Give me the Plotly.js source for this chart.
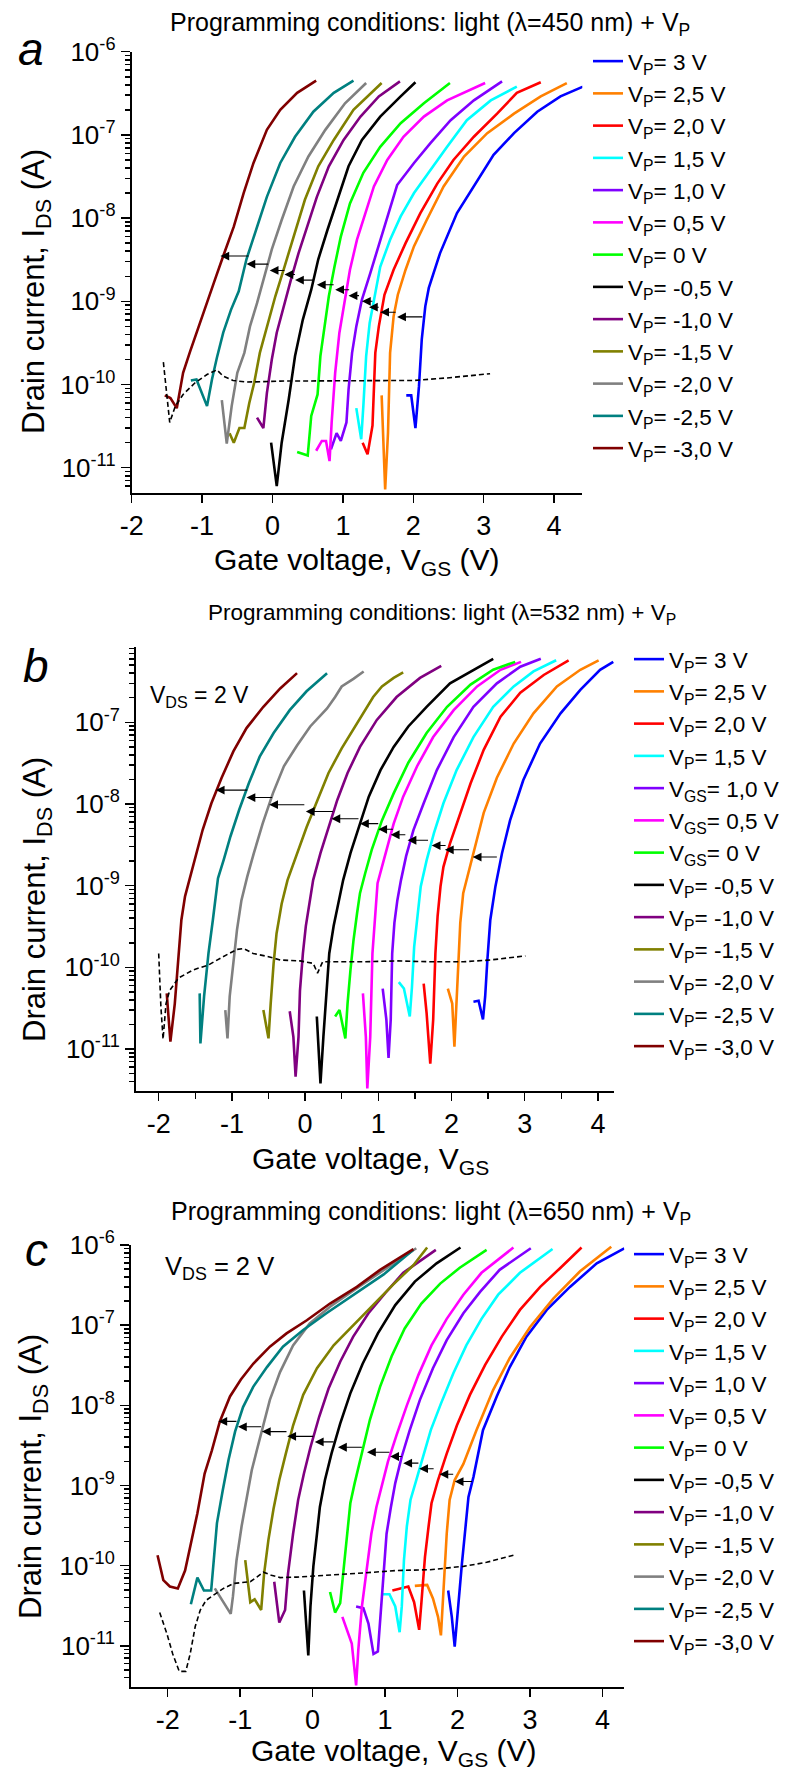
<!DOCTYPE html>
<html>
<head>
<meta charset="utf-8">
<script src="https://cdn.plot.ly/plotly-3.0.1.min.js"></script>
<style>html,body{margin:0;padding:0;background:#fff;}#chart{width:797px;height:1775px;}</style>
</head>
<body>
<div id="chart"></div>
<script>
// ---------------- labels & colours ----------------
const legendLabelsA = ['V<sub>P</sub>= 3 V','V<sub>P</sub>= 2,5 V','V<sub>P</sub>= 2,0 V','V<sub>P</sub>= 1,5 V','V<sub>P</sub>= 1,0 V','V<sub>P</sub>= 0,5 V','V<sub>P</sub>= 0 V','V<sub>P</sub>= -0,5 V','V<sub>P</sub>= -1,0 V','V<sub>P</sub>= -1,5 V','V<sub>P</sub>= -2,0 V','V<sub>P</sub>= -2,5 V','V<sub>P</sub>= -3,0 V'];
const legendLabelsB = ['V<sub>P</sub>= 3 V','V<sub>P</sub>= 2,5 V','V<sub>P</sub>= 2,0 V','V<sub>P</sub>= 1,5 V','V<sub>GS</sub>= 1,0 V','V<sub>GS</sub>= 0,5 V','V<sub>GS</sub>= 0 V','V<sub>P</sub>= -0,5 V','V<sub>P</sub>= -1,0 V','V<sub>P</sub>= -1,5 V','V<sub>P</sub>= -2,0 V','V<sub>P</sub>= -2,5 V','V<sub>P</sub>= -3,0 V'];
const legendLabelsC = legendLabelsA;
const curveColors = ['#0000ff','#ff8000','#ff0000','#00ffff','#8000ff','#ff00ff','#00ff00','#000000','#800080','#808000','#808080','#008080','#800000'];
const xTickVals = [-2,-1,0,1,2,3,4];
const xTickText = ['-2','-1','0','1','2','3','4'];
const xHalfTickVals = [-1.5,-0.5,0.5,1.5,2.5,3.5];
const titleA = 'Programming conditions: light (λ=450 nm) + V<sub>P</sub>';
const titleB = 'Programming conditions: light (λ=532 nm) + V<sub>P</sub>';
const titleC = 'Programming conditions: light (λ=650 nm) + V<sub>P</sub>';
const xTitleAC = 'Gate voltage, V<sub>GS</sub> (V)';
const xTitleB = 'Gate voltage, V<sub>GS</sub>';
const yTitle = 'Drain current, I<sub>DS</sub> (A)';
const vdsText = 'V<sub>DS</sub> = 2 V';

// ---------------- panel a (450 nm) ----------------
const a_V_p3 = [1.90,1.97,2.03,2.08,2.12,2.17,2.22,2.38,2.62,2.86,3.14,3.43,3.76,4.09,4.41];
const a_I_p3 = [7.4e-11,7.4e-11,3.0e-11,9.5e-11,3.5e-10,8.7e-10,1.45e-9,3.8e-9,1.15e-8,2.4e-8,5.75e-8,1.05e-7,1.9e-7,2.9e-7,3.8e-7];
const a_V_p25 = [1.55,1.60,1.64,1.67,1.72,1.78,1.89,2.01,2.19,2.43,2.72,3.05,3.43,3.81,4.18];
const a_I_p25 = [7.4e-11,5.5e-12,2.6e-11,2.4e-10,6.6e-10,1.2e-9,2.4e-9,4.6e-9,9.5e-9,2.4e-8,5.5e-8,1.05e-7,1.8e-7,2.9e-7,4.2e-7];
const a_V_p20 = [1.28,1.35,1.42,1.46,1.51,1.59,1.72,1.89,2.10,2.34,2.57,2.86,3.19,3.47,3.81];
const a_I_p20 = [2.0e-11,1.45e-11,3.2e-11,2.4e-10,5.0e-10,1.2e-9,2.4e-9,5.0e-9,1.15e-8,2.6e-8,5.0e-8,9.5e-8,1.8e-7,3.2e-7,4.3e-7];
const a_V_p15 = [1.19,1.26,1.29,1.33,1.38,1.44,1.53,1.67,1.82,2.01,2.24,2.48,2.76,3.10,3.47];
const a_I_p15 = [5.2e-11,2.2e-11,5.5e-11,2.2e-10,5.5e-10,1.05e-9,2.6e-9,5.5e-9,1.05e-8,2.0e-8,3.8e-8,7.2e-8,1.5e-7,2.6e-7,3.8e-7];
const a_V_p10 = [0.83,0.91,0.97,1.05,1.08,1.13,1.19,1.27,1.39,1.53,1.67,1.77,2.01,2.24,2.53,2.86,3.26];
const a_I_p10 = [1.66e-11,2.6e-11,2.1e-11,3.5e-11,8.7e-11,2.4e-10,5.0e-10,1.05e-9,2.2e-9,5.5e-9,1.38e-8,2.5e-8,4.6e-8,7.9e-8,1.5e-7,2.6e-7,4.4e-7];
const a_V_p05 = [0.62,0.70,0.76,0.81,0.84,0.89,0.95,1.02,1.10,1.20,1.32,1.44,1.63,1.86,2.15,2.48,3.02];
const a_I_p05 = [1.6e-11,2.1e-11,2.1e-11,1.2e-11,3.5e-11,1.38e-10,4.2e-10,9.5e-10,2.4e-9,5.5e-9,1.15e-8,2.4e-8,5.0e-8,9.5e-8,1.66e-7,2.6e-7,4.2e-7];
const a_V_0 = [0.35,0.50,0.55,0.64,0.68,0.74,0.80,0.88,0.97,1.10,1.29,1.53,1.82,2.15,2.52];
const a_I_0 = [1.55e-11,1.4e-11,4.2e-11,7.6e-11,2.2e-10,5.0e-10,1.15e-9,2.6e-9,6.0e-9,1.5e-8,3.5e-8,7.2e-8,1.38e-7,2.4e-7,4.2e-7];
const a_V_m05 = [-0.02,0.06,0.13,0.23,0.32,0.43,0.55,0.65,0.78,0.92,1.08,1.27,1.53,1.82,2.03];
const a_I_m05 = [2.0e-11,6.0e-12,2.0e-11,6.6e-11,2.2e-10,6.0e-10,1.38e-9,3.2e-9,7.2e-9,1.66e-8,4.2e-8,8.7e-8,1.66e-7,2.9e-7,4.3e-7];
const a_V_m10 = [-0.22,-0.13,-0.08,-0.01,0.06,0.17,0.26,0.37,0.49,0.63,0.80,1.01,1.25,1.51,1.81];
const a_I_m10 = [4.0e-11,3.0e-11,7.9e-11,2.0e-10,4.2e-10,9.5e-10,1.8e-9,3.8e-9,7.9e-9,1.8e-8,4.2e-8,8.7e-8,1.66e-7,2.9e-7,4.4e-7];
const a_V_m15 = [-0.61,-0.55,-0.47,-0.40,-0.33,-0.26,-0.18,-0.08,0.04,0.17,0.30,0.46,0.65,0.87,1.15,1.55];
const a_I_m15 = [2.6e-11,2.0e-11,3.0e-11,3.0e-11,6.0e-11,1.05e-10,2.4e-10,5.0e-10,1.15e-9,2.6e-9,6.0e-9,1.66e-8,4.2e-8,8.7e-8,2.0e-7,4.2e-7];
const a_V_m20 = [-0.72,-0.65,-0.58,-0.50,-0.40,-0.32,-0.22,-0.13,-0.01,0.13,0.30,0.51,0.75,1.03,1.33];
const a_I_m20 = [6.5e-11,1.95e-11,5.5e-11,1.38e-10,2.4e-10,5.0e-10,9.5e-10,1.8e-9,4.2e-9,9.5e-9,2.4e-8,5.5e-8,1.15e-7,2.4e-7,4.2e-7];
const a_V_m25 = [-1.16,-1.08,-0.93,-0.86,-0.79,-0.70,-0.59,-0.48,-0.37,-0.22,-0.08,0.11,0.32,0.58,0.87,1.15];
const a_I_m25 = [1.12e-10,1.15e-10,5.5e-11,1.15e-10,2.1e-10,4.2e-10,7.9e-10,1.32e-9,3.2e-9,7.9e-9,1.8e-8,4.6e-8,9.5e-8,1.9e-7,3.2e-7,4.5e-7];
const a_V_m30 = [-1.53,-1.45,-1.36,-1.27,-1.17,-1.05,-0.93,-0.82,-0.70,-0.55,-0.41,-0.27,-0.08,0.11,0.35,0.62];
const a_I_m30 = [7.4e-11,6.9e-11,5.2e-11,1.38e-10,2.5e-10,5.0e-10,9.5e-10,1.8e-9,3.5e-9,7.9e-9,2.0e-8,4.6e-8,1.15e-7,2.0e-7,3.2e-7,4.5e-7];
const a_V_ref = [-1.55,-1.49,-1.46,-1.38,-1.27,-1.10,-0.93,-0.79,-0.70,-0.56,-0.37,0.11,1.06,2.01,2.48,3.09];
const a_I_ref = [1.86e-10,6.6e-11,3.5e-11,5.5e-11,7.6e-11,1.05e-10,1.32e-10,1.5e-10,1.26e-10,1.12e-10,1.07e-10,1.1e-10,1.1e-10,1.12e-10,1.2e-10,1.35e-10];
const a_arrowHeadV = [-0.74,-0.37,-0.04,0.17,0.32,0.63,0.89,1.08,1.27,1.37,1.53,1.77];
const a_arrowTailV = [-0.32,-0.04,0.19,0.34,0.61,0.89,1.11,1.25,1.44,1.53,1.77,2.15];
const a_arrowI = [3.5e-9,2.8e-9,2.35e-9,2.1e-9,1.8e-9,1.58e-9,1.38e-9,1.17e-9,1.0e-9,8.5e-10,7.4e-10,6.5e-10];

// ---------------- panel b (532 nm) ----------------
const b_V_p3 = [2.30,2.37,2.43,2.46,2.49,2.53,2.60,2.69,2.80,2.98,3.21,3.49,3.76,4.03,4.21];
const b_I_p3 = [3.8e-11,3.9e-11,2.3e-11,4.4e-11,1.23e-10,3.8e-10,9.8e-10,2.5e-9,6.3e-9,1.95e-8,5.5e-8,1.29e-7,2.5e-7,4.4e-7,5.5e-7];
const b_V_p25 = [1.95,2.01,2.04,2.07,2.10,2.12,2.16,2.23,2.32,2.44,2.62,2.85,3.12,3.44,3.76,4.01];
const b_I_p25 = [5.5e-11,3.6e-11,1.07e-11,4.4e-11,1.48e-10,3.5e-10,8.1e-10,1.41e-9,3.0e-9,7.8e-9,2.1e-8,5.5e-8,1.29e-7,2.75e-7,4.4e-7,5.75e-7];
const b_V_p20 = [1.62,1.66,1.71,1.75,1.78,1.81,1.85,1.89,1.98,2.10,2.26,2.44,2.67,2.94,3.26,3.60];
const b_I_p20 = [6.3e-11,2.75e-11,6.6e-12,2.3e-11,1.48e-10,4.2e-10,9.8e-10,1.7e-9,3.3e-9,6.9e-9,1.78e-8,4.6e-8,1.17e-7,2.3e-7,3.8e-7,5.75e-7];
const b_V_p15 = [1.28,1.35,1.43,1.46,1.49,1.54,1.58,1.66,1.76,1.89,2.07,2.30,2.57,2.85,3.12,3.43];
const b_I_p15 = [6.6e-11,5.5e-11,2.5e-11,5.75e-11,1.78e-10,5.0e-10,9.8e-10,2.04e-9,4.4e-9,1.02e-8,2.6e-8,6.6e-8,1.55e-7,2.75e-7,4.2e-7,5.75e-7];
const b_V_p10 = [1.06,1.11,1.14,1.17,1.19,1.22,1.26,1.31,1.38,1.48,1.62,1.80,2.03,2.30,2.62,2.94,3.22];
const b_I_p10 = [5.5e-11,2.3e-11,7.8e-12,2.3e-11,1.48e-10,3.5e-10,6.6e-10,1.17e-9,2.3e-9,4.8e-9,1.02e-8,2.6e-8,6.6e-8,1.55e-7,3.0e-7,4.8e-7,6.0e-7];
const b_V_p05 = [0.79,0.83,0.85,0.89,0.92,0.96,0.99,1.05,1.12,1.21,1.34,1.53,1.75,2.03,2.35,2.67,2.95];
const b_I_p05 = [4.8e-11,1.41e-11,3.3e-12,1.41e-11,1.48e-10,5.5e-10,1.07e-9,1.7e-9,3.0e-9,5.75e-9,1.23e-8,2.9e-8,6.6e-8,1.41e-7,2.75e-7,4.4e-7,5.5e-7];
const b_V_0 = [0.41,0.47,0.55,0.58,0.62,0.66,0.71,0.75,0.82,0.91,1.05,1.21,1.41,1.66,1.94,2.26,2.57,2.87];
const b_I_0 = [2.5e-11,3.0e-11,1.35e-11,3.6e-11,9.3e-11,2.1e-10,4.6e-10,8.1e-10,1.41e-9,2.75e-9,6.3e-9,1.35e-8,3.2e-8,7.4e-8,1.55e-7,2.9e-7,4.4e-7,5.5e-7];
const b_V_m05 = [0.16,0.21,0.25,0.29,0.33,0.39,0.44,0.52,0.62,0.73,0.87,1.03,1.21,1.41,1.66,1.98,2.30,2.57];
const b_I_m05 = [2.5e-11,3.8e-12,1.41e-11,4.8e-11,1.48e-10,3.2e-10,5.5e-10,1.17e-9,2.5e-9,5.2e-9,1.23e-8,2.6e-8,5.0e-8,8.9e-8,1.55e-7,3.0e-7,4.4e-7,6.0e-7];
const b_V_m10 = [-0.21,-0.16,-0.13,-0.09,-0.07,-0.03,0.01,0.05,0.11,0.21,0.32,0.44,0.58,0.75,0.98,1.25,1.57,1.86];
const b_I_m10 = [2.9e-11,1.41e-11,4.6e-12,1.41e-11,5.2e-11,1.48e-10,3.2e-10,5.5e-10,1.17e-9,2.5e-9,5.2e-9,1.12e-8,2.4e-8,5.0e-8,1.07e-7,2.04e-7,3.5e-7,4.9e-7];
const b_V_m15 = [-0.57,-0.50,-0.47,-0.43,-0.39,-0.32,-0.24,-0.11,0.02,0.17,0.32,0.50,0.68,0.83,0.93,1.05,1.21,1.34];
const b_I_m15 = [3.0e-11,1.35e-11,3.6e-11,1.12e-10,2.6e-10,6.0e-10,1.17e-9,2.5e-9,5.2e-9,1.12e-8,2.4e-8,4.8e-8,8.9e-8,1.48e-7,2.04e-7,2.75e-7,3.5e-7,4.1e-7];
const b_V_m20 = [-1.09,-1.06,-1.03,-0.98,-0.93,-0.87,-0.79,-0.70,-0.58,-0.44,-0.29,-0.11,0.07,0.30,0.41,0.50,0.66,0.80];
const b_I_m20 = [3.0e-11,1.35e-11,4.4e-11,1.23e-10,2.9e-10,6.6e-10,1.29e-9,2.5e-9,5.75e-9,1.35e-8,2.9e-8,5.2e-8,8.9e-8,1.48e-7,2.04e-7,2.75e-7,3.4e-7,4.2e-7];
const b_V_m25 = [-1.44,-1.43,-1.38,-1.32,-1.26,-1.19,-1.11,-1.02,-0.90,-0.77,-0.62,-0.43,-0.21,0.02,0.30];
const b_I_m25 = [4.8e-11,1.17e-11,4.4e-11,1.48e-10,3.8e-10,1.23e-9,2.1e-9,4.0e-9,8.5e-9,1.78e-8,3.8e-8,7.4e-8,1.41e-7,2.4e-7,4.0e-7];
const b_V_m30 = [-1.89,-1.84,-1.78,-1.73,-1.69,-1.64,-1.58,-1.50,-1.40,-1.28,-1.14,-0.98,-0.80,-0.57,-0.34,-0.11];
const b_I_m30 = [4.8e-11,1.23e-11,3.6e-11,1.48e-10,3.8e-10,7.4e-10,1.17e-9,2.3e-9,4.8e-9,1.02e-8,2.1e-8,4.4e-8,8.5e-8,1.55e-7,2.6e-7,4.0e-7];
const b_V_ref = [-2.00,-1.97,-1.94,-1.90,-1.85,-1.73,-1.53,-1.32,-1.12,-0.93,-0.84,-0.71,-0.50,-0.34,-0.07,0.11,0.17,0.24,0.39,0.80,1.25,1.71,2.16,2.53,3.01];
const b_I_ref = [1.48e-10,3.3e-11,1.32e-11,3.6e-11,5.2e-11,7.4e-11,9.3e-11,1.07e-10,1.35e-10,1.66e-10,1.7e-10,1.48e-10,1.35e-10,1.23e-10,1.2e-10,1.12e-10,8.5e-11,1.17e-10,1.17e-10,1.17e-10,1.2e-10,1.17e-10,1.17e-10,1.23e-10,1.38e-10];
const b_arrowHeadV = [-1.22,-0.80,-0.49,0.01,0.36,0.75,1.00,1.17,1.40,1.73,1.91,2.29];
const b_arrowTailV = [-0.77,-0.43,0.01,0.40,0.75,1.02,1.22,1.39,1.70,1.94,2.26,2.64];
const b_arrowI = [1.48e-8,1.2e-8,9.8e-9,8.1e-9,6.6e-9,5.75e-9,4.9e-9,4.2e-9,3.6e-9,3.1e-9,2.75e-9,2.24e-9];

// ---------------- panel c (650 nm) ----------------
const c_V_p3 = [1.87,1.92,1.96,2.06,2.15,2.22,2.35,2.54,2.72,2.95,3.23,3.55,3.92,4.30];
const c_I_p3 = [4.9e-11,2.3e-11,9.8e-12,1.07e-10,7.2e-10,1.29e-9,4.9e-9,1.29e-8,3.0e-8,7.2e-8,1.55e-7,3.0e-7,5.9e-7,9.1e-7];
const c_V_p25 = [1.41,1.58,1.66,1.73,1.77,1.80,1.85,1.89,1.96,2.08,2.26,2.49,2.72,3.00,3.32,3.69,4.12];
const c_I_p25 = [5.6e-11,5.75e-11,3.9e-11,2.3e-11,1.35e-11,4.5e-11,2.5e-10,6.6e-10,1.17e-9,1.86e-9,4.9e-9,1.55e-8,3.9e-8,9.5e-8,2.14e-7,4.7e-7,9.5e-7];
const c_V_p20 = [1.10,1.21,1.32,1.40,1.47,1.50,1.55,1.60,1.64,1.73,1.85,1.99,2.17,2.38,2.61,2.86,3.14,3.41,3.71];
const c_I_p20 = [4.9e-11,5.2e-11,5.5e-11,3.5e-11,1.58e-11,3.4e-11,1.29e-10,3.1e-10,6.0e-10,1.17e-9,2.5e-9,5.6e-9,1.35e-8,3.2e-8,7.2e-8,1.55e-7,3.0e-7,5.1e-7,9.3e-7];
const c_V_p15 = [0.97,1.06,1.14,1.20,1.23,1.26,1.30,1.35,1.43,1.52,1.63,1.77,1.94,2.12,2.33,2.56,2.86,3.31];
const c_I_p15 = [4.4e-11,4.4e-11,3.1e-11,1.48e-11,3.1e-11,1.17e-10,3.1e-10,6.6e-10,1.17e-9,2.3e-9,4.9e-9,1.05e-8,2.5e-8,5.6e-8,1.2e-7,2.4e-7,4.5e-7,8.9e-7];
const c_V_p10 = [0.60,0.70,0.77,0.84,0.90,0.93,0.98,1.02,1.08,1.14,1.23,1.34,1.48,1.66,1.85,2.08,2.31,2.58,3.01];
const c_I_p10 = [3.1e-11,2.95e-11,1.9e-11,7.9e-12,8.5e-12,1.9e-11,7.9e-11,2.5e-10,5.4e-10,1.07e-9,2.3e-9,4.9e-9,1.17e-8,2.9e-8,6.5e-8,1.41e-7,2.6e-7,4.9e-7,9.1e-7];
const c_V_p05 = [0.41,0.47,0.54,0.60,0.63,0.68,0.75,0.81,0.88,0.95,1.04,1.16,1.30,1.46,1.64,1.85,2.08,2.33,2.77];
const c_I_p05 = [2.3e-11,1.66e-11,1.07e-11,3.2e-12,8.9e-12,3.1e-11,9.8e-11,2.5e-10,5.4e-10,9.5e-10,2.0e-9,4.3e-9,1.0e-8,2.4e-8,5.6e-8,1.2e-7,2.4e-7,4.5e-7,9.3e-7];
const c_V_0 = [0.24,0.31,0.38,0.42,0.47,0.52,0.58,0.68,0.79,0.93,1.09,1.27,1.50,1.76,2.03,2.40];
const c_I_0 = [4.7e-11,2.6e-11,3.4e-11,7.9e-11,2.1e-10,6.0e-10,1.07e-9,2.5e-9,6.6e-9,1.7e-8,4.1e-8,9.1e-8,1.86e-7,3.3e-7,5.2e-7,8.7e-7];
const c_V_m05 = [-0.12,-0.06,-0.03,0.01,0.06,0.10,0.17,0.26,0.38,0.52,0.69,0.90,1.14,1.41,1.71,2.04];
const c_I_m05 = [4.9e-11,7.6e-12,3.1e-11,9.8e-11,2.5e-10,5.4e-10,1.17e-9,2.5e-9,5.9e-9,1.41e-8,3.3e-8,7.9e-8,1.78e-7,3.5e-7,5.9e-7,9.3e-7];
const c_V_m10 = [-0.53,-0.46,-0.38,-0.34,-0.27,-0.20,-0.12,-0.03,0.09,0.22,0.38,0.56,0.77,1.00,1.25,1.70];
const c_I_m10 = [6.3e-11,1.95e-11,2.8e-11,7.9e-11,2.5e-10,6.6e-10,1.41e-9,3.0e-9,7.2e-9,1.62e-8,3.5e-8,7.2e-8,1.41e-7,2.5e-7,4.5e-7,8.7e-7];
const c_V_m15 = [-0.93,-0.86,-0.80,-0.71,-0.67,-0.61,-0.54,-0.46,-0.37,-0.27,-0.13,0.06,0.29,0.56,0.84,1.11,1.39,1.58];
const c_I_m15 = [1.17e-10,3.5e-11,3.8e-11,2.8e-11,7.9e-11,2.1e-10,5.1e-10,1.17e-9,2.5e-9,5.6e-9,1.35e-8,2.9e-8,5.6e-8,1.0e-7,1.78e-7,3.2e-7,5.6e-7,9.3e-7];
const c_V_m20 = [-1.35,-1.13,-1.10,-1.05,-0.98,-0.91,-0.84,-0.77,-0.69,-0.59,-0.45,-0.27,-0.04,0.24,0.61,1.02,1.43];
const c_I_m20 = [5.2e-11,2.5e-11,4.1e-11,1.17e-10,3.1e-10,7.2e-10,1.55e-9,2.75e-9,5.4e-9,1.17e-8,2.6e-8,5.6e-8,1.05e-7,1.7e-7,2.9e-7,5.1e-7,9.1e-7];
const c_V_m25 = [-1.68,-1.59,-1.50,-1.40,-1.36,-1.32,-1.24,-1.16,-1.07,-0.96,-0.82,-0.63,-0.41,-0.13,0.19,0.56,0.98,1.39];
const c_I_m25 = [3.3e-11,7.1e-11,4.9e-11,4.9e-11,1.29e-10,3.4e-10,8.7e-10,2.1e-9,4.7e-9,9.5e-9,1.7e-8,3.0e-8,5.4e-8,8.7e-8,1.41e-7,2.4e-7,4.3e-7,8.7e-7];
const c_V_m30 = [-2.14,-2.06,-1.97,-1.86,-1.76,-1.67,-1.59,-1.49,-1.39,-1.28,-1.14,-0.99,-0.82,-0.59,-0.36,-0.08,0.24,0.61,0.93,1.39];
const c_I_m30 = [1.35e-10,6.6e-11,5.5e-11,5.2e-11,8.7e-11,2.1e-10,4.5e-10,1.41e-9,2.75e-9,6.3e-9,1.29e-8,2.1e-8,3.3e-8,5.4e-8,7.9e-8,1.15e-7,1.86e-7,3.0e-7,4.9e-7,8.9e-7];
const c_V_ref = [-2.11,-2.01,-1.93,-1.84,-1.75,-1.69,-1.62,-1.55,-1.47,-1.37,-1.23,-1.09,-0.86,-0.77,-0.68,-0.57,-0.45,-0.22,0.24,0.70,1.16,1.62,2.08,2.40,2.77];
const c_I_ref = [2.6e-11,1.41e-11,7.9e-12,4.8e-12,4.8e-12,7.9e-12,1.74e-11,2.8e-11,3.7e-11,4.3e-11,5.2e-11,6.0e-11,6.3e-11,7.2e-11,8.3e-11,7.6e-11,7.1e-11,7.2e-11,7.6e-11,8.1e-11,8.7e-11,8.9e-11,9.8e-11,1.1e-10,1.35e-10];
const c_arrowHeadV = [-1.30,-1.03,-0.70,-0.35,0.03,0.35,0.75,1.07,1.25,1.47,1.75,1.96];
const c_arrowTailV = [-1.03,-0.69,-0.34,0.03,0.31,0.70,1.08,1.25,1.48,1.69,1.96,2.22];
const c_arrowI = [6.3e-9,5.4e-9,4.7e-9,4.1e-9,3.5e-9,3.0e-9,2.6e-9,2.3e-9,1.9e-9,1.62e-9,1.38e-9,1.12e-9];

// ---------------- assembly ----------------
const FONT = 'Liberation Sans, Arial, Helvetica, sans-serif';
const W = 797, H = 1775;
const px = v => v / W;          // layout helper: pixel -> paper x
const py = v => 1 - v / H;      // layout helper: pixel -> paper y

const panels = [
  {sx:'', legend:'legend', labels:legendLabelsA,
   V:[a_V_p3,a_V_p25,a_V_p20,a_V_p15,a_V_p10,a_V_p05,a_V_0,a_V_m05,a_V_m10,a_V_m15,a_V_m20,a_V_m25,a_V_m30],
   I:[a_I_p3,a_I_p25,a_I_p20,a_I_p15,a_I_p10,a_I_p05,a_I_0,a_I_m05,a_I_m10,a_I_m15,a_I_m20,a_I_m25,a_I_m30],
   refV:a_V_ref, refI:a_I_ref, head:a_arrowHeadV, tail:a_arrowTailV, arrI:a_arrowI},
  {sx:'2', legend:'legend2', labels:legendLabelsB,
   V:[b_V_p3,b_V_p25,b_V_p20,b_V_p15,b_V_p10,b_V_p05,b_V_0,b_V_m05,b_V_m10,b_V_m15,b_V_m20,b_V_m25,b_V_m30],
   I:[b_I_p3,b_I_p25,b_I_p20,b_I_p15,b_I_p10,b_I_p05,b_I_0,b_I_m05,b_I_m10,b_I_m15,b_I_m20,b_I_m25,b_I_m30],
   refV:b_V_ref, refI:b_I_ref, head:b_arrowHeadV, tail:b_arrowTailV, arrI:b_arrowI},
  {sx:'3', legend:'legend3', labels:legendLabelsC,
   V:[c_V_p3,c_V_p25,c_V_p20,c_V_p15,c_V_p10,c_V_p05,c_V_0,c_V_m05,c_V_m10,c_V_m15,c_V_m20,c_V_m25,c_V_m30],
   I:[c_I_p3,c_I_p25,c_I_p20,c_I_p15,c_I_p10,c_I_p05,c_I_0,c_I_m05,c_I_m10,c_I_m15,c_I_m20,c_I_m25,c_I_m30],
   refV:c_V_ref, refI:c_I_ref, head:c_arrowHeadV, tail:c_arrowTailV, arrI:c_arrowI}
];

const traces = [];
const annotations = [];
panels.forEach(p => {
  p.V.forEach((v, i) => {
    traces.push({x:v, y:p.I[i], type:'scatter', mode:'lines', name:p.labels[i],
      line:{color:curveColors[i], width:2.6}, xaxis:'x'+p.sx, yaxis:'y'+p.sx, legend:p.legend});
  });
  traces.push({x:p.refV, y:p.refI, type:'scatter', mode:'lines', showlegend:false,
    line:{color:'#000', width:1.6, dash:'5px,3px'}, xaxis:'x'+p.sx, yaxis:'y'+p.sx});
  p.head.forEach((h, i) => {
    annotations.push({xref:'x'+p.sx, yref:'y'+p.sx, axref:'x'+p.sx, ayref:'y'+p.sx,
      x:h, y:Math.log10(p.arrI[i]), ax:p.tail[i], ay:Math.log10(p.arrI[i]),
      text:'', showarrow:true, arrowhead:2, arrowsize:1.6, arrowwidth:1.1, arrowcolor:'#000', standoff:0, startstandoff:0});
  });
});

function decades(lo, hi){ const a=[]; for(let k=lo;k<=hi;k++) a.push(Math.pow(10,k)); return a; }
function decadeLabels(lo, hi){ const a=[]; for(let k=lo;k<=hi;k++) a.push('10<sup>'+k+'</sup>'); return a; }
function minors(lo, hi){ const a=[]; for(let k=lo;k<=hi;k++) for(let m=2;m<=9;m++) a.push(m*Math.pow(10,k)); return a; }

const axisCommon = {showline:true, linecolor:'#000', linewidth:2, showgrid:false, zeroline:false,
  ticks:'outside', tickcolor:'#000', tickwidth:1.5, mirror:false};

function xAxis(domain, range, anchor, halfTicks){
  const ax = Object.assign({}, axisCommon, {domain, range, anchor, tickmode:'array', tickvals:xTickVals, ticktext:xTickText,
    ticklen:8, tickfont:{family:FONT, size:27, color:'#000'}});
  if (halfTicks) ax.minor = {tickmode:'array', tickvals:xHalfTickVals, ticklen:6, tickwidth:1.5, ticks:'outside', tickcolor:'#000', showgrid:false};
  return ax;
}
function yAxis(domain, range, anchor){
  return Object.assign({}, axisCommon, {domain, range, anchor, type:'log', tickmode:'array',
    tickvals:decades(-12,-6), ticktext:decadeLabels(-12,-6), ticklen:9,
    tickfont:{family:FONT, size:26, color:'#000'},
    minor:{tickmode:'array', tickvals:minors(-12,-7), ticklen:5, tickwidth:1.5, ticks:'outside', tickcolor:'#000', showgrid:false}});
}

function txt(text, x, y, size, extra){
  return Object.assign({xref:'paper', yref:'paper', x:px(x), y:py(y), text, showarrow:false,
    xanchor:'center', yanchor:'middle', font:{family:FONT, size, color:'#000'}}, extra||{});
}
annotations.push(
  txt(titleA, 430, 24, 25),
  txt(titleB, 442, 614, 22.5),
  txt(titleC, 431, 1213, 25),
  txt(xTitleAC, 356, 561, 30),
  txt(xTitleB, 370, 1160, 30),
  txt(xTitleAC, 393, 1752, 30),
  txt(yTitle, 36, 292, 31, {textangle:-90}),
  txt(yTitle, 37, 900, 31, {textangle:-90}),
  txt(yTitle, 33, 1477, 31, {textangle:-90}),
  txt('<i>a</i>', 31, 49, 46),
  txt('<i>b</i>', 36, 666, 46),
  txt('<i>c</i>', 36, 1250, 46),
  txt(vdsText, 148, 696, 23, {xanchor:'left'}),
  txt(vdsText, 163, 1268, 25.5, {xanchor:'left'})
);

function legendBox(xp, yp){
  return {x:px(xp), y:py(yp), xanchor:'left', yanchor:'top', bgcolor:'rgba(0,0,0,0)', borderwidth:0,
    font:{family:FONT, size:22.5, color:'#000'}, itemwidth:30, tracegroupgap:0, traceorder:'normal'};
}

const layout = {
  width:W, height:H, margin:{l:0, r:0, t:0, b:0}, paper_bgcolor:'#fff', plot_bgcolor:'#fff',
  showlegend:true, hovermode:false,
  xaxis: xAxis([px(131.7), px(582.3)], [-2, 4.4], 'y', false),
  yaxis: yAxis([py(492.7), py(51.7)], [-11.3, -6], 'x'),
  xaxis2: xAxis([px(136), px(614)], [-2.31, 4.22], 'y2', true),
  yaxis2: yAxis([py(1091), py(646.7)], [-11.514, -6.074], 'x2'),
  xaxis3: xAxis([px(131), px(624.3)], [-2.506, 4.30], 'y3', false),
  yaxis3: yAxis([py(1686.7), py(1245)], [-11.51, -6], 'x3'),
  legend: legendBox(588, 40),
  legend2: legendBox(629, 638),
  legend3: legendBox(629, 1233),
  annotations
};

Plotly.newPlot('chart', traces, layout, {staticPlot:true, displayModeBar:false});
</script>
</body>
</html>
